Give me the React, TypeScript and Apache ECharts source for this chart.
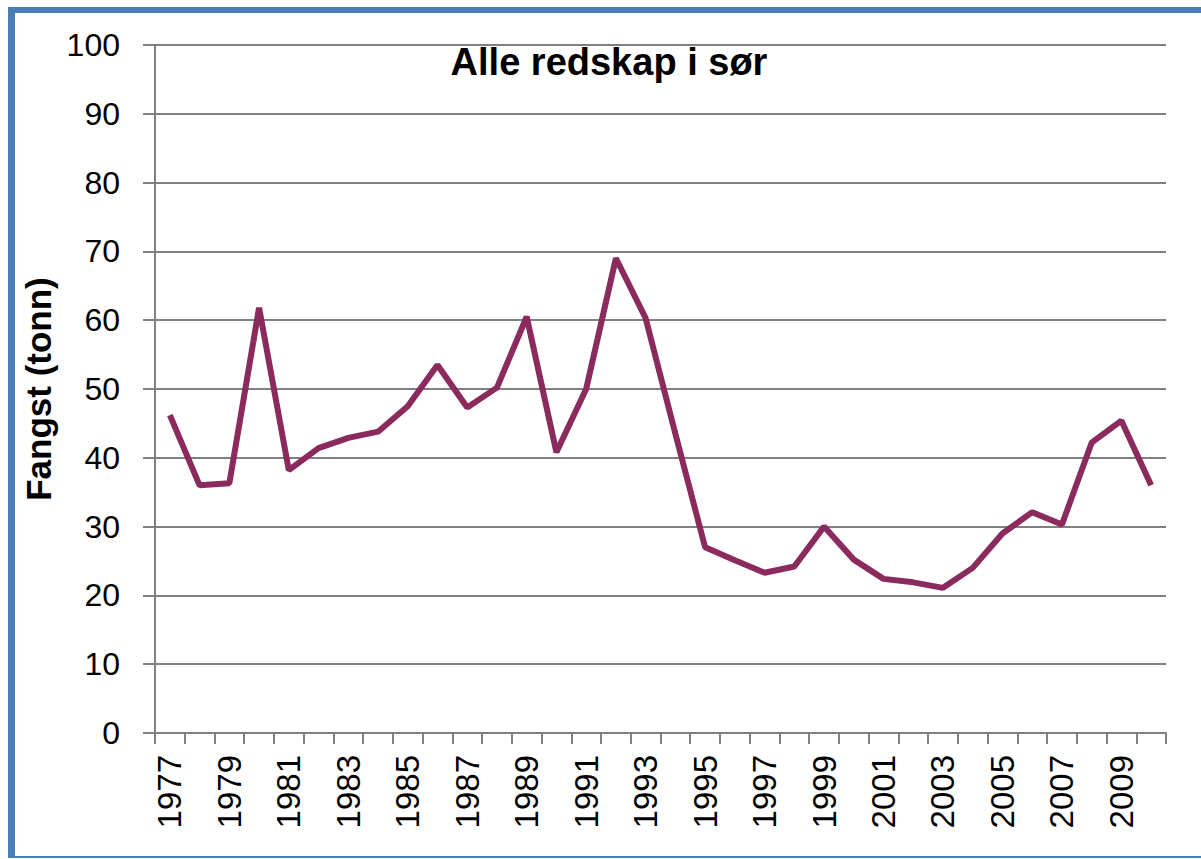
import React, { useEffect, useRef } from "react";
import * as echarts from "echarts";

const years: string[] = [
  "1977", "1978", "1979", "1980", "1981", "1982", "1983", "1984", "1985", "1986",
  "1987", "1988", "1989", "1990", "1991", "1992", "1993", "1994", "1995", "1996",
  "1997", "1998", "1999", "2000", "2001", "2002", "2003", "2004", "2005", "2006",
  "2007", "2008", "2009", "2010",
];
const catch_: number[] = [
  46.2, 36.0, 36.3, 61.8, 38.2, 41.4, 42.9, 43.8, 47.5, 53.5,
  47.3, 50.2, 60.5, 40.8, 50.0, 69.0, 60.3, 43.5, 27.0, 25.1,
  23.3, 24.2, 30.0, 25.2, 22.4, 21.9, 21.1, 24.0, 29.0, 32.1,
  30.3, 42.2, 45.4, 36.0,
];
const titleText = "Alle redskap i sør";
const yName = "Fangst (tonn)";

const FONT = "'Liberation Sans', Arial, sans-serif";

export default function App() {
  const ref = useRef<HTMLDivElement>(null);
  useEffect(() => {
    if (!ref.current) return;
    const chart = echarts.init(ref.current, null, { renderer: "svg" });
    chart.setOption({
      animation: false,
      backgroundColor: "#ffffff",
      title: {
        text: titleText,
        left: 604,
        top: 38,
        textAlign: "center",
        textStyle: { fontFamily: FONT, fontSize: 38, fontWeight: "bold", color: "#000" },
      },
      graphic: [
        { type: "rect", shape: { x: 8, y: 7, width: 1193, height: 6 }, style: { fill: "#4b7db8" } },
        { type: "rect", shape: { x: 8, y: 7, width: 7, height: 851 }, style: { fill: "#4b7db8" } },
        { type: "rect", shape: { x: 8, y: 856, width: 1193, height: 2 }, style: { fill: "#4b7db8" } },
      ],
      grid: { left: 155, right: 35, top: 45, bottom: 126, containLabel: false },
      xAxis: {
        type: "category",
        data: years,
        boundaryGap: true,
        axisLine: { lineStyle: { color: "#808080", width: 2 } },
        axisTick: { show: true, interval: 0, length: 11, lineStyle: { color: "#808080", width: 2 } },
        axisLabel: {
          interval: 1,
          rotate: 90,
          margin: 22,
          color: "#000",
          fontFamily: FONT,
          fontSize: 33,
        },
        splitLine: { show: false },
      },
      yAxis: {
        type: "value",
        min: 0,
        max: 100,
        interval: 10,
        name: yName,
        nameLocation: "middle",
        nameRotate: 90,
        nameGap: 98,
        nameTextStyle: { fontFamily: FONT, fontSize: 35, fontWeight: "bold", color: "#000" },
        axisLine: { show: true, lineStyle: { color: "#808080", width: 2 } },
        axisTick: { show: true, length: 12, lineStyle: { color: "#808080", width: 2 } },
        axisLabel: { margin: 35, color: "#000", fontFamily: FONT, fontSize: 32 },
        splitLine: { show: true, lineStyle: { color: "#808080", width: 2 } },
      },
      series: [
        {
          type: "line",
          data: catch_,
          symbol: "none",
          lineStyle: { color: "#8b2a5c", width: 6 },
          itemStyle: { color: "#8b2a5c" },
        },
      ],
    });
    return () => chart.dispose();
  }, []);
  return (
    <div
      ref={ref}
      style={{ position: "absolute", left: 0, top: 0, width: 1201, height: 859 }}
    />
  );
}
